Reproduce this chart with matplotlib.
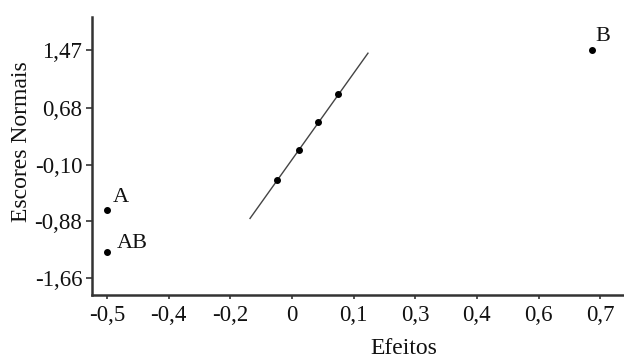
import matplotlib
matplotlib.use("Agg")
import matplotlib.pyplot as plt
import numpy as np

# Data
labels = ["A", "AB", "B"]
label_x = [-0.50, -0.50, 0.681]
label_y = [-0.72, -1.30, 1.47]

line_pts_x = [-0.087, -0.032, 0.013, 0.063]
line_pts_y = [-0.31, 0.10, 0.48, 0.87]

fit_x = [-0.152, 0.135]
fit_y = [-0.84, 1.43]

xtick_vals = [-0.5, -0.35, -0.2, -0.05, 0.1, 0.25, 0.4, 0.55, 0.7]
xtick_labels = ["-0,5", "-0,4", "-0,2", "0", "0,1", "0,3", "0,4", "0,6", "0,7"]
ytick_vals = [1.47, 0.68, -0.10, -0.88, -1.66]
ytick_labels = ["1,47", "0,68", "-0,10", "-0,88", "-1,66"]

plt.rcParams["font.family"] = ["Liberation Serif", "DejaVu Serif"]

fig = plt.figure(figsize=(6.24, 3.59), dpi=100)
ax = fig.add_axes([92 / 624, 64 / 359, 1 - 92 / 624, (295 - 17) / 359])

ax.plot(fit_x, fit_y, color="#444444", lw=1.0, zorder=2)
ax.plot(line_pts_x, line_pts_y, "o", color="black", ms=4, zorder=3)
ax.plot(label_x, label_y, "o", color="black", ms=4, zorder=3)

offsets = [(6, 3), (10, -1), (3, 4)]
for t, x, y, off in zip(labels, label_x, label_y, offsets):
    ax.annotate(t, (x, y), xytext=off, textcoords="offset pixels",
                fontsize=16, ha="left", va="bottom", color="#111111")

ax.set_xlim(-0.5365, 0.758)
ax.set_ylim(-1.892, 1.927)
ax.set_xticks(xtick_vals)
ax.set_xticklabels(xtick_labels)
ax.set_yticks(ytick_vals)
ax.set_yticklabels(ytick_labels)

for s in ["top", "right"]:
    ax.spines[s].set_visible(False)
for s in ["left", "bottom"]:
    ax.spines[s].set_linewidth(1.8)
    ax.spines[s].set_color("#333333")

ax.tick_params(axis="x", length=3, width=1.2, color="#333333", labelsize=16.5, pad=4, labelcolor="#111111")
ax.tick_params(axis="y", length=4, width=1.2, color="#333333", labelsize=16.5, pad=3, labelcolor="#111111")

fig.text(404 / 624, 1 - 349 / 359, "Efeitos", fontsize=17, ha="center", va="center", color="#111111")
fig.text(22 / 624, 1 - 142 / 359, "Escores Normais", fontsize=17, ha="center", va="center",
         rotation=90, color="#111111")

fig.savefig("out.png", dpi=100)
